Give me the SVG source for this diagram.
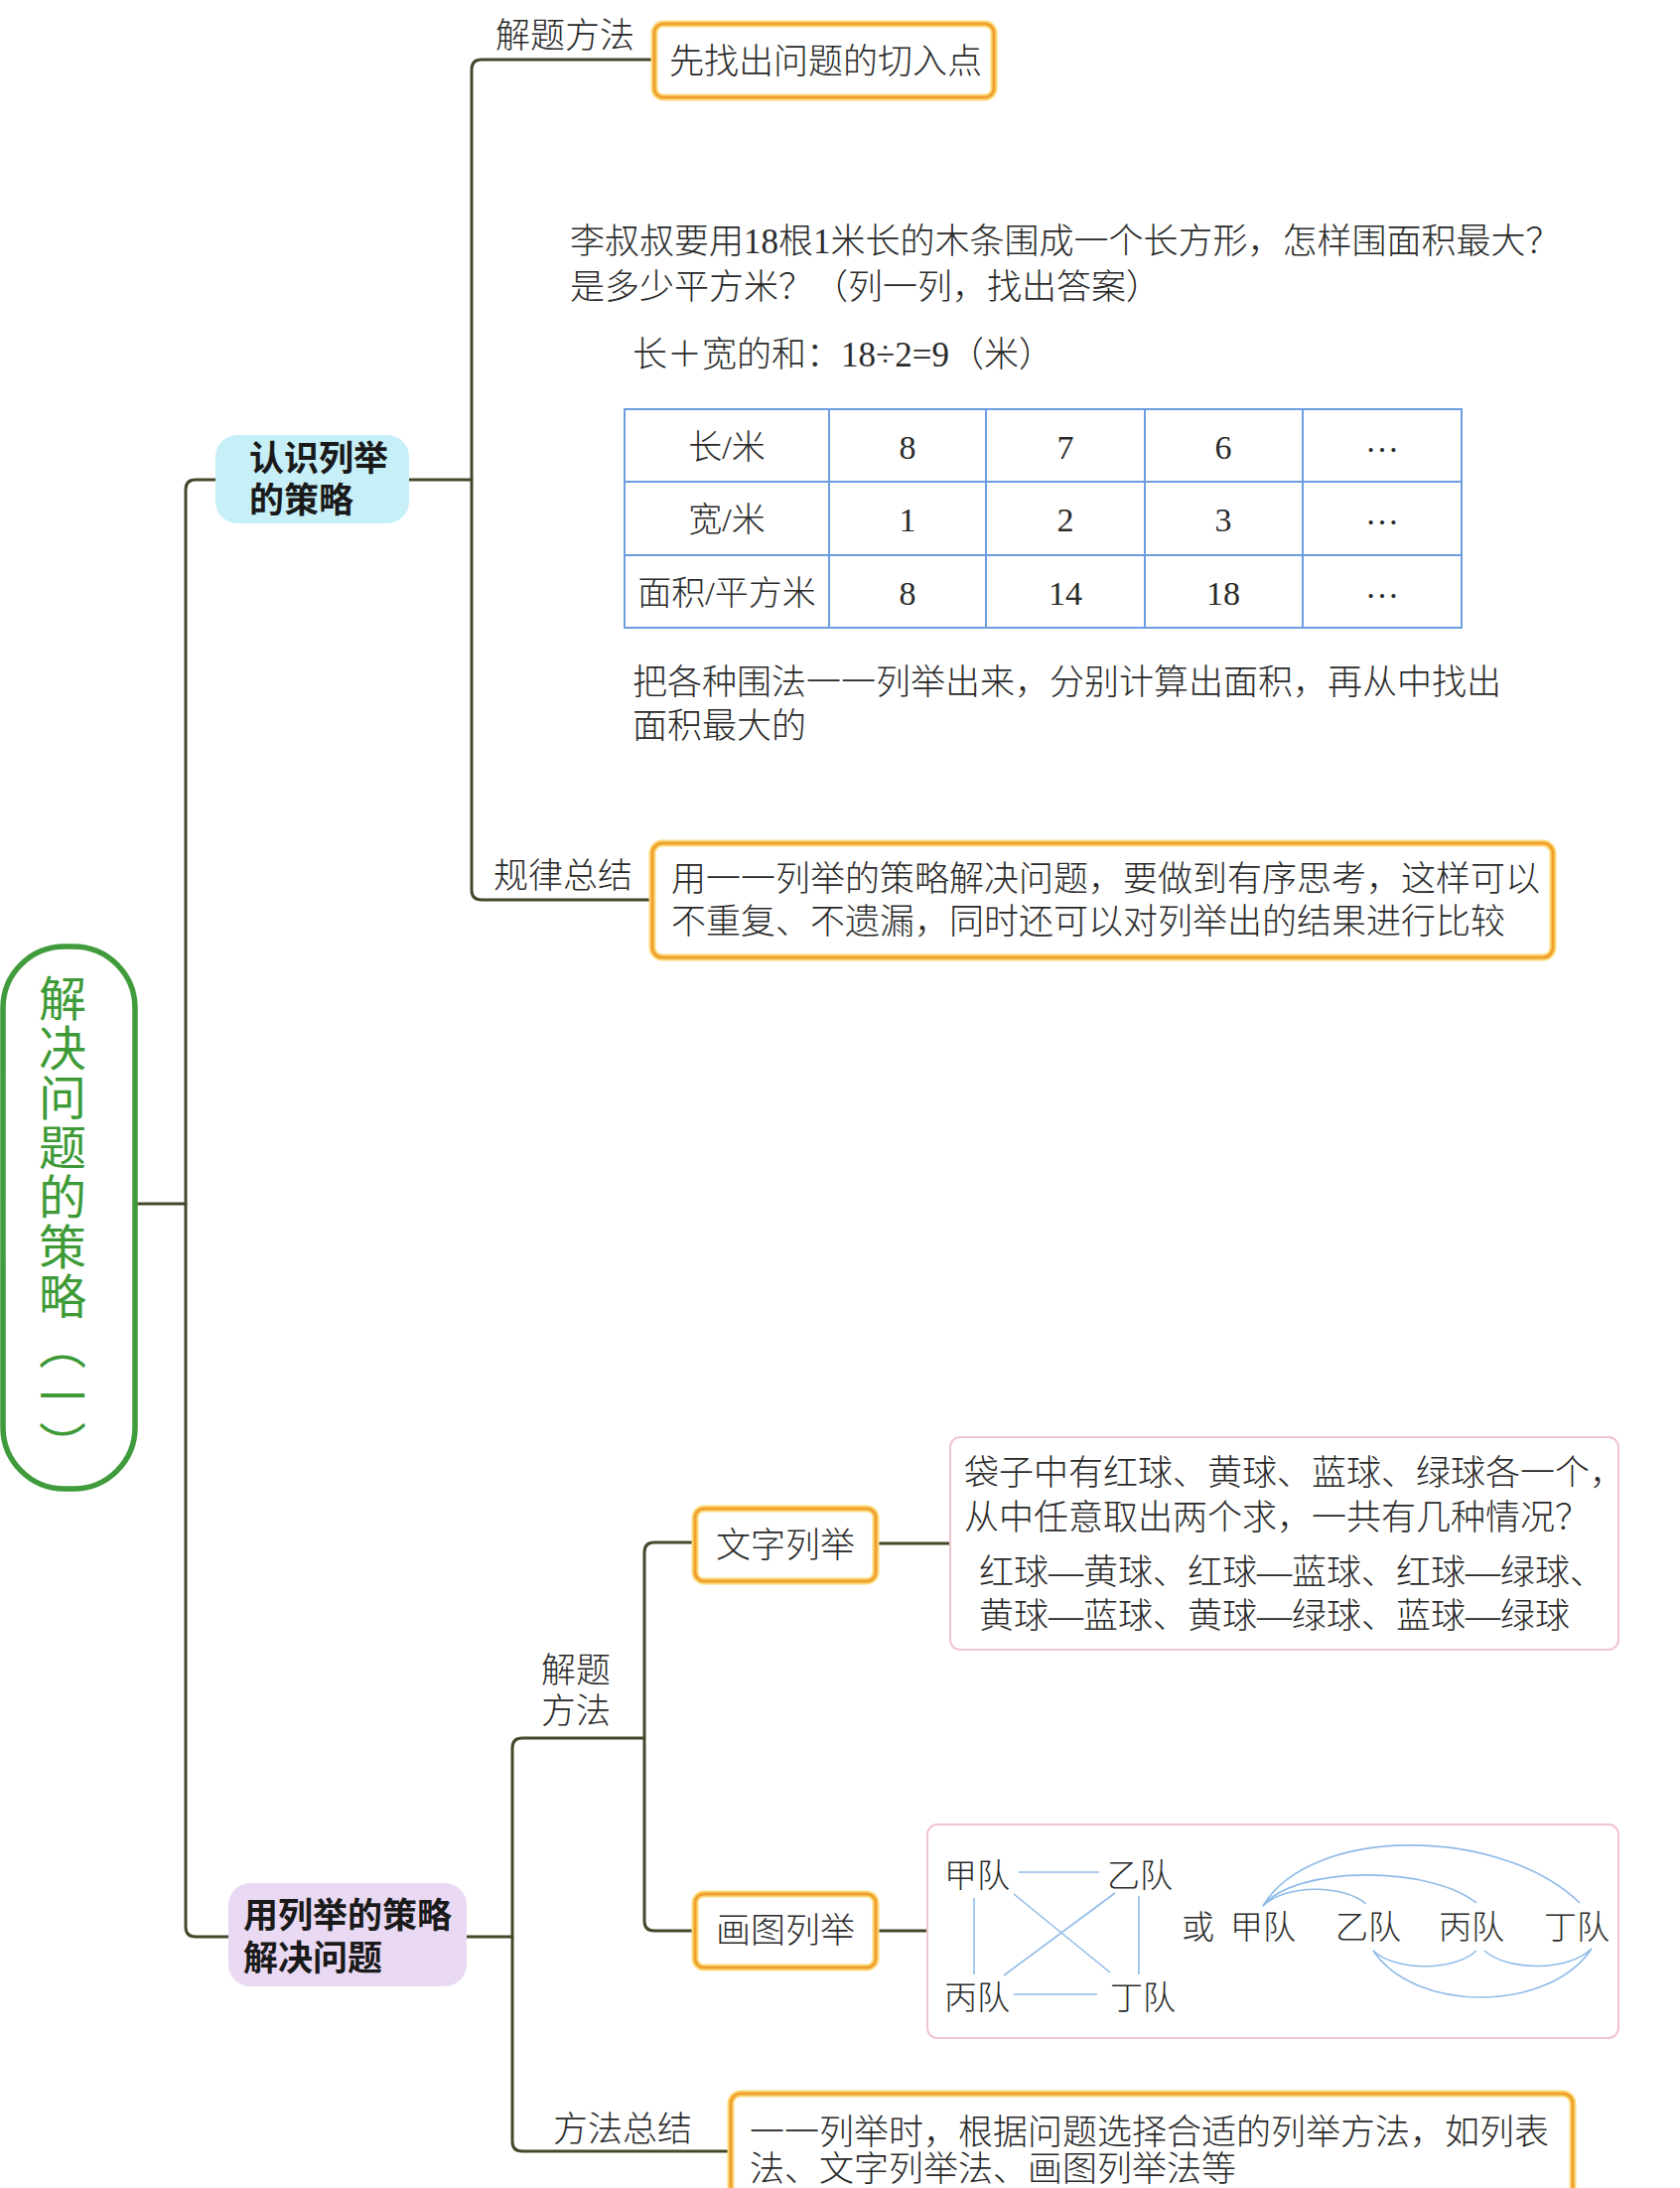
<svg xmlns="http://www.w3.org/2000/svg" width="1692" height="2203" viewBox="0 0 1692 2203">
<style>
.conn{fill:none;stroke:#47472b;stroke-width:3;stroke-linecap:round}
.t{font-family:"Liberation Serif","Noto Sans CJK SC",serif;font-size:35px;fill:#2a2a2a;font-weight:300}
.tc{text-anchor:middle}
.lbl{font-family:"Liberation Serif","Noto Sans CJK SC",sans-serif;font-size:35px;fill:#2a2a2a;font-weight:300}
.bold{font-family:"Liberation Sans","Noto Sans CJK SC",sans-serif;font-size:35px;fill:#1a1a1a;font-weight:bold}
.root{font-family:"Noto Sans CJK SC",sans-serif;font-size:48px;fill:#3d9a36;writing-mode:vertical-rl;letter-spacing:2px}
.og{fill:#fff;stroke:#fbd978;stroke-width:7}
.oo{fill:none;stroke:#f0a02e;stroke-width:3}
.pk{fill:#fff;stroke:#f3c3cf;stroke-width:2}
.tb{fill:none;stroke:#6b9de0;stroke-width:2}
.dl{fill:none;stroke:#8fbbe8;stroke-width:1.6}
</style>

<g id="connectors">
  <path class="conn" d="M137,1212 H187"/>
  <path class="conn" d="M217,483 H197 Q187,483 187,493 V1940 Q187,1950 197,1950 H230"/>
  <path class="conn" d="M412,483 H475"/>
  <path class="conn" d="M659,60 H485 Q475,60 475,70 V896 Q475,906 485,906 H657"/>
  <path class="conn" d="M470,1950 H516"/>
  <path class="conn" d="M649,1750 H526 Q516,1750 516,1760 V2156 Q516,2166 526,2166 H736"/>
  <path class="conn" d="M700,1553 H659 Q649,1553 649,1563 V1934 Q649,1944 659,1944 H700"/>
  <path class="conn" d="M882,1554 H957"/>
  <path class="conn" d="M882,1944 H934"/>
</g>

<g id="root">
  <rect x="3" y="953" width="133" height="546" rx="62" fill="#fff" stroke="#3f9b3b" stroke-width="5.5"/>
  <text class="root" x="63" y="981">解决问题的策略（一）</text>
</g>

<g id="node-renshi">
  <rect x="217" y="438" width="195" height="89" rx="22" fill="#c6eff7"/>
  <text class="bold"><tspan x="251" y="474">认识列举</tspan><tspan x="251" y="516">的策略</tspan></text>
</g>

<g id="label-jieti-1">
  <text class="lbl" x="499" y="48">解题方法</text>
</g>

<g id="node-qierudian">
  <rect class="og" x="659" y="24" width="342" height="74" rx="9"/>
  <rect class="oo" x="659" y="24" width="342" height="74" rx="9"/>
  <text class="t" x="674" y="74">先找出问题的切入点</text>
</g>

<g id="example-table">
  <text class="t" x="574" y="255">李叔叔要用18根1米长的木条围成一个长方形，怎样围面积最大？</text>
  <text class="t" x="574" y="301">是多少平方米？（列一列，找出答案）</text>
  <text class="t" x="637" y="369">长＋宽的和：18÷2=9（米）</text>
  <rect class="tb" x="629" y="412" width="843" height="220"/>
  <path class="tb" d="M835,412 V632 M993,412 V632 M1153,412 V632 M1312,412 V632 M629,485 H1472 M629,559 H1472"/>
  <g class="t tc" style="font-size:34px">
    <text x="732" y="462">长/米</text>
    <text x="914" y="462">8</text>
    <text x="1073" y="462">7</text>
    <text x="1232" y="462">6</text>
    <text x="1392" y="455">…</text>
    <text x="732" y="535">宽/米</text>
    <text x="914" y="535">1</text>
    <text x="1073" y="535">2</text>
    <text x="1232" y="535">3</text>
    <text x="1392" y="528">…</text>
    <text x="732" y="609">面积/平方米</text>
    <text x="914" y="609">8</text>
    <text x="1073" y="609">14</text>
    <text x="1232" y="609">18</text>
    <text x="1392" y="602">…</text>
  </g>
  <text class="t"><tspan x="637" y="699">把各种围法一一列举出来，分别计算出面积，再从中找出</tspan><tspan x="637" y="743">面积最大的</tspan></text>
</g>

<g id="label-guilv">
  <text class="lbl" x="497" y="894">规律总结</text>
</g>

<g id="node-guilv">
  <rect class="og" x="657" y="849" width="907" height="115" rx="10"/>
  <rect class="oo" x="657" y="849" width="907" height="115" rx="10"/>
  <text class="t"><tspan x="676" y="897">用一一列举的策略解决问题，要做到有序思考，这样可以</tspan><tspan x="676" y="940">不重复、不遗漏，同时还可以对列举出的结果进行比较</tspan></text>
</g>

<g id="node-yong">
  <rect x="230" y="1896" width="240" height="104" rx="22" fill="#ead9f3"/>
  <text class="bold"><tspan x="245" y="1941">用列举的策略</tspan><tspan x="245" y="1984">解决问题</tspan></text>
</g>

<g id="label-jieti-2">
  <text class="lbl"><tspan x="545" y="1694">解题</tspan><tspan x="545" y="1735">方法</tspan></text>
</g>

<g id="node-wenzi">
  <rect class="og" x="700" y="1519" width="182" height="73" rx="9"/>
  <rect class="oo" x="700" y="1519" width="182" height="73" rx="9"/>
  <text class="t tc" x="791" y="1568">文字列举</text>
</g>

<g id="node-wenzi-detail">
  <rect class="pk" x="957" y="1447" width="673" height="214" rx="10"/>
  <text class="t"><tspan x="971" y="1495">袋子中有红球、黄球、蓝球、绿球各一个，</tspan><tspan x="971" y="1540">从中任意取出两个求，一共有几种情况？</tspan></text>
  <text class="t"><tspan x="986" y="1595">红球—黄球、红球—蓝球、红球—绿球、</tspan><tspan x="986" y="1639">黄球—蓝球、黄球—绿球、蓝球—绿球</tspan></text>
</g>

<g id="node-huatu">
  <rect class="og" x="700" y="1907" width="182" height="74" rx="9"/>
  <rect class="oo" x="700" y="1907" width="182" height="74" rx="9"/>
  <text class="t tc" x="791" y="1956">画图列举</text>
</g>

<g id="node-huatu-detail">
  <rect class="pk" x="934" y="1837" width="696" height="215" rx="10"/>
  <g class="t" style="font-size:33px">
    <text x="951" y="1900">甲队</text>
    <text x="1115" y="1900">乙队</text>
    <text x="951" y="2023">丙队</text>
    <text x="1118" y="2023">丁队</text>
    <text x="1190" y="1952">或</text>
    <text x="1239" y="1952">甲队</text>
    <text x="1345" y="1952">乙队</text>
    <text x="1449" y="1952">丙队</text>
    <text x="1555" y="1952">丁队</text>
  </g>
  <path class="dl" d="M1026,1885 H1107 M1021,2008 H1105 M981,1911 V1988 M1147,1909 V1988 M1021,1907 L1118,1986 M1123,1906 L1011,1989"/>
  <path class="dl" d="M1272,1919 C1295,1897 1352,1897 1376,1917"/>
  <path class="dl" d="M1272,1919 C1305,1878 1440,1878 1487,1916"/>
  <path class="dl" d="M1272,1919 C1320,1838 1510,1838 1591,1916"/>
  <path class="dl" d="M1383,1964 C1405,1985 1465,1985 1487,1964"/>
  <path class="dl" d="M1495,1964 C1518,1985 1580,1985 1603,1962"/>
  <path class="dl" d="M1383,1964 C1425,2027 1560,2027 1603,1962"/>
</g>

<g id="label-fangfa">
  <text class="lbl" x="557" y="2156">方法总结</text>
</g>

<g id="node-fangfa">
  <rect class="og" x="736" y="2108" width="848" height="140" rx="10"/>
  <rect class="oo" x="736" y="2108" width="848" height="140" rx="10"/>
  <text class="t"><tspan x="755" y="2159">一一列举时，根据问题选择合适的列举方法，如列表</tspan><tspan x="755" y="2196">法、文字列举法、画图列举法等</tspan></text>
</g>
</svg>
